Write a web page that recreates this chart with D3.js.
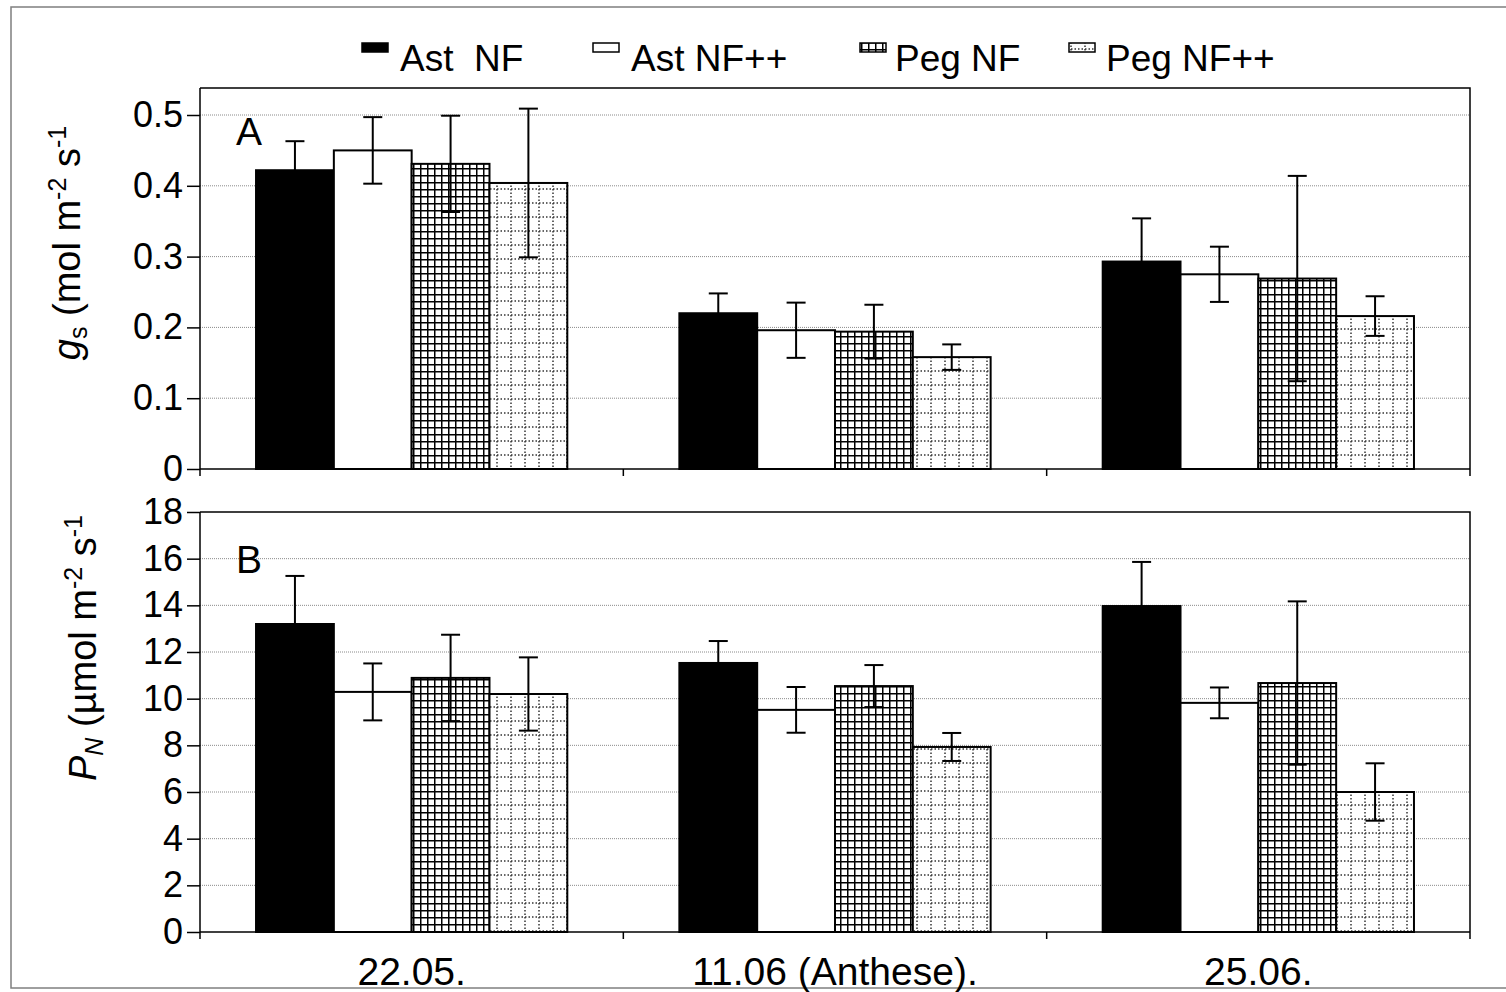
<!DOCTYPE html>
<html>
<head>
<meta charset="utf-8">
<script src="https://cdn.jsdelivr.net/npm/d3@7"></script>
<style>
  html, body { margin: 0; padding: 0; background: #fff; }
  svg { display: block; font-family: "Liberation Sans", Arial, sans-serif; }
  text { white-space: pre; }
</style>
</head>
<body>
<svg id="chart" width="1506" height="992"></svg>
<script>
// categories and series
const categories = ["22.05.", "11.06 (Anthese).", "25.06."];
const series = ["Ast  NF", "Ast NF++", "Peg NF", "Peg NF++"];

// panel A: stomatal conductance (one row per series, one value per date)
const gsMean = [
    [0.422, 0.220, 0.293],
    [0.450, 0.196, 0.275],
    [0.431, 0.194, 0.269],
    [0.404, 0.158, 0.216]
];
const gsErr = [
    [0.041, 0.028, 0.061],
    [0.047, 0.039, 0.039],
    [0.068, 0.038, 0.145],
    [0.105, 0.018, 0.028]
];
const gsTicks = [0, 0.1, 0.2, 0.3, 0.4, 0.5];

// panel B: net photosynthesis
const pnMean = [
    [13.2, 11.53, 13.97],
    [10.29, 9.52, 9.82],
    [10.89, 10.54, 10.67],
    [10.2, 7.93, 6.0]
];
const pnErr = [
    [2.06, 0.94, 1.89],
    [1.22, 0.98, 0.66],
    [1.85, 0.90, 3.50],
    [1.57, 0.60, 1.23]
];
const pnTicks = [0, 2, 4, 6, 8, 10, 12, 14, 16, 18];

const svg = d3.select('#chart');

// fill patterns
const defs = svg.append('defs');

const gridPat = defs.append('pattern')
    .attr('id', 'grid')
    .attr('patternUnits', 'userSpaceOnUse')
    .attr('width', 7).attr('height', 7);
gridPat.append('rect').attr('width', 7).attr('height', 7).attr('fill', '#fff');
gridPat.append('path')
    .attr('d', 'M0,0.5H7M0.5,0V7')
    .attr('stroke', '#000').attr('stroke-width', 2);

const dotPat = defs.append('pattern')
    .attr('id', 'dots')
    .attr('patternUnits', 'userSpaceOnUse')
    .attr('width', 14).attr('height', 14);
dotPat.append('rect').attr('width', 14).attr('height', 14).attr('fill', '#fff');
dotPat.append('path')
    .attr('d', 'M0,7H14M7,0V14')
    .attr('stroke', '#333').attr('stroke-width', 1.5)
    .attr('stroke-dasharray', '1.5,2');

const fills = ['#000', '#fff', 'url(#grid)', 'url(#dots)'];

// outer frame
svg.append('rect')
    .attr('x', 11).attr('y', 7)
    .attr('width', 1510).attr('height', 981)
    .attr('fill', 'none')
    .attr('stroke', '#7f7f7f').attr('stroke-width', 1.5);

const plotLeft = 200, plotRight = 1470;

const x0 = d3.scaleBand()
    .domain(categories)
    .range([plotLeft, plotRight])
    .padding(0);

const x1 = d3.scaleBand()
    .domain(series)
    .range([0, x0.bandwidth()])
    .paddingInner(0)
    .paddingOuter(0.72);

function drawPanel(cfg) {
    const g = svg.append('g');
    const y = d3.scaleLinear().domain(cfg.domain).range(cfg.range);
    const top = cfg.top;
    const bottom = y(0);

    // gridlines
    g.append('g')
        .selectAll('line')
        .data(cfg.ticks.filter(t => t > 0 && y(t) > top + 1))
        .join('line')
        .attr('x1', plotLeft).attr('x2', plotRight)
        .attr('y1', d => y(d)).attr('y2', d => y(d))
        .attr('stroke', '#8a8a8a').attr('stroke-width', 1)
        .attr('stroke-dasharray', '1,1');

    // plot area border
    g.append('path')
        .attr('d', `M${plotLeft},${top}H${plotRight}V${bottom}`)
        .attr('fill', 'none')
        .attr('stroke', '#000').attr('stroke-width', 1.5);

    // bars
    const rows = [];
    series.forEach((s, si) => {
        categories.forEach((c, ci) => {
            rows.push({ s, si, c, v: cfg.mean[si][ci], e: cfg.err[si][ci] });
        });
    });

    g.append('g')
        .selectAll('rect')
        .data(rows)
        .join('rect')
        .attr('x', d => x0(d.c) + x1(d.s))
        .attr('y', d => y(d.v))
        .attr('width', x1.bandwidth())
        .attr('height', d => bottom - y(d.v))
        .attr('fill', d => fills[d.si])
        .attr('stroke', '#000').attr('stroke-width', 2);

    // error bars
    const eb = g.append('g')
        .selectAll('g')
        .data(rows)
        .join('g')
        .attr('transform', d => `translate(${x0(d.c) + x1(d.s) + x1.bandwidth() / 2},0)`)
        .attr('stroke', '#000').attr('stroke-width', 2);
    eb.append('line')
        .attr('y1', d => y(d.v - d.e)).attr('y2', d => y(d.v + d.e));
    eb.append('line')
        .attr('x1', -9.5).attr('x2', 9.5)
        .attr('y1', d => y(d.v + d.e)).attr('y2', d => y(d.v + d.e));
    eb.append('line')
        .attr('x1', -9.5).attr('x2', 9.5)
        .attr('y1', d => y(d.v - d.e)).attr('y2', d => y(d.v - d.e));

    // y axis
    const yAxis = g.append('g')
        .attr('transform', `translate(${plotLeft},0)`)
        .call(d3.axisLeft(y)
            .tickValues(cfg.ticks)
            .tickSize(13)
            .tickPadding(4)
            .tickFormat(cfg.format));
    yAxis.select('.domain').attr('stroke', '#000').attr('stroke-width', 1.5)
        .attr('d', `M0,${top}V${bottom}`);
    yAxis.selectAll('.tick line').attr('stroke', '#000').attr('stroke-width', 1.5);
    yAxis.selectAll('.tick text')
        .attr('font-size', 36)
        .attr('font-family', '"Liberation Sans", Arial, sans-serif')
        .attr('fill', '#000');

    // x axis line with ticks at category boundaries
    g.append('line')
        .attr('x1', plotLeft).attr('x2', plotRight)
        .attr('y1', bottom).attr('y2', bottom)
        .attr('stroke', '#000').attr('stroke-width', 1.5);
    const bounds = categories.map(c => x0(c)).concat([plotRight]);
    g.append('g')
        .selectAll('line')
        .data(bounds)
        .join('line')
        .attr('x1', d => d).attr('x2', d => d)
        .attr('y1', bottom).attr('y2', bottom + 7)
        .attr('stroke', '#000').attr('stroke-width', 1.5);

    // panel letter
    g.append('text')
        .attr('x', 236).attr('y', cfg.letterY)
        .attr('font-size', 39)
        .text(cfg.letter);

    // y title
    const t = g.append('text')
        .attr('transform', `translate(${cfg.titleX},${cfg.titleY}) rotate(-90)`)
        .attr('text-anchor', 'middle')
        .attr('font-size', 38);
    cfg.title(t);

    return y;
}

function gsTitle(t) {
    t.append('tspan').attr('font-style', 'italic').text('g');
    t.append('tspan').attr('font-size', 25).attr('dy', 7).text('s');
    t.append('tspan').attr('dy', -7).text(' (mol m');
    t.append('tspan').attr('font-size', 25).attr('dy', -14).text('-2');
    t.append('tspan').attr('dy', 14).text(' s');
    t.append('tspan').attr('font-size', 25).attr('dy', -14).text('-1');
}

function pnTitle(t) {
    t.append('tspan').attr('font-style', 'italic').text('P');
    t.append('tspan').attr('font-style', 'italic').attr('font-size', 25).attr('dy', 7).text('N');
    t.append('tspan').attr('dy', -7).text(' (µmol m');
    t.append('tspan').attr('font-size', 25).attr('dy', -14).text('-2');
    t.append('tspan').attr('dy', 14).text(' s');
    t.append('tspan').attr('font-size', 25).attr('dy', -14).text('-1');
}

drawPanel({
    domain: [0, 0.5], range: [469, 115], top: 88,
    ticks: gsTicks, mean: gsMean, err: gsErr,
    format: d => d === 0 ? '0' : d3.format('.1f')(d),
    letter: 'A', letterY: 145,
    title: gsTitle, titleX: 80, titleY: 243
});

drawPanel({
    domain: [0, 18], range: [932, 512], top: 512,
    ticks: pnTicks, mean: pnMean, err: pnErr,
    format: d => String(d),
    letter: 'B', letterY: 573,
    title: pnTitle, titleX: 96, titleY: 648
});

// category labels
svg.append('g')
    .selectAll('text')
    .data(categories)
    .join('text')
    .attr('x', d => x0(d) + x0.bandwidth() / 2)
    .attr('y', 985)
    .attr('text-anchor', 'middle')
    .attr('font-size', 39)
    .text(d => d);

// legend
const legendSwatchX = [362, 593, 860, 1069];
const legendTextX = [400, 631, 895, 1106];
const lg = svg.append('g')
    .selectAll('g')
    .data(series)
    .join('g');
lg.append('rect')
    .attr('x', (d, i) => legendSwatchX[i]).attr('y', 43)
    .attr('width', 26).attr('height', 9)
    .attr('fill', (d, i) => fills[i])
    .attr('stroke', '#000').attr('stroke-width', 1.5);
lg.append('text')
    .attr('x', (d, i) => legendTextX[i]).attr('y', 71)
    .attr('font-size', 37)
    .text(d => d);
</script>
</body>
</html>
